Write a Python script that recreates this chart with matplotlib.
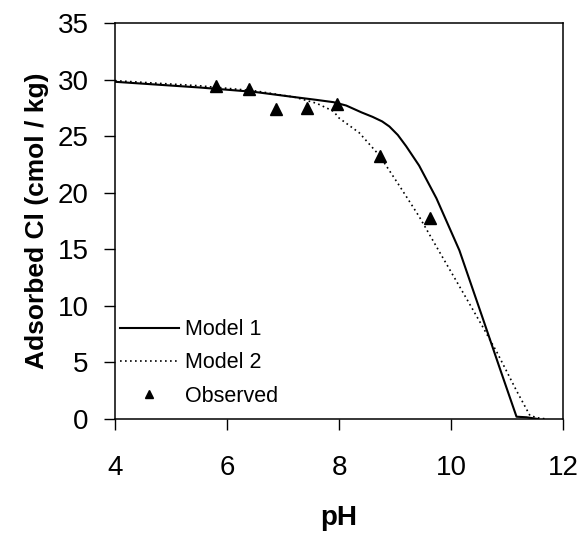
import numpy as np
import matplotlib
matplotlib.use('Agg')
import matplotlib.pyplot as plt

plt.rcParams['font.family'] = ['Liberation Sans', 'DejaVu Sans']

# model 1 (solid)
ph_model1 = [4.0, 5.5, 6.5, 7.2, 7.6, 7.9, 8.13, 8.4, 8.6, 8.77, 8.9, 9.05, 9.2, 9.43, 9.74,
             10.15, 10.56, 10.87, 11.17, 11.35, 11.55]
cl_model1 = [29.8, 29.3, 28.9, 28.45, 28.2, 28.0, 27.7, 27.1, 26.7, 26.3, 25.85, 25.1, 24.1, 22.4, 19.5,
             14.9, 9.0, 4.5, 0.2, 0.15, 0.0]

# model 2 (dotted)
ph_model2 = [4.0, 5.5, 6.5, 7.2, 7.6, 7.9, 8.0, 8.36, 8.72, 9.08, 9.43, 9.79, 10.2,
             10.56, 10.82, 11.17, 11.41, 11.55, 11.7]
cl_model2 = [29.9, 29.45, 29.0, 28.45, 27.9, 27.2, 26.6, 25.3, 23.3, 20.6, 17.9, 14.8, 11.3,
             8.2, 5.9, 2.5, 0.3, 0.1, 0.0]

# observed
ph_obs = [5.8, 6.4, 6.87, 7.43, 7.97, 8.74, 9.63]
cl_obs = [29.4, 29.2, 27.4, 27.5, 27.8, 23.2, 17.8]

fig = plt.figure(figsize=(5.81, 5.34), dpi=100)
ax = fig.add_axes([0.198, 0.2154, 0.771, 0.7416])

ax.plot(ph_model1, cl_model1, color='black', linewidth=1.5, label='Model 1')
ax.plot(ph_model2, cl_model2, color='black', linewidth=1.2, linestyle=(0, (1, 2)), label='Model 2')
ax.plot(ph_obs, cl_obs, linestyle='none', marker='^', color='black', markersize=8, label='Observed')

ax.set_xlim(4, 12)
ax.set_ylim(0, 35)
ax.set_xticks([4, 6, 8, 10, 12])
ax.set_yticks(np.arange(0, 36, 5))
ax.tick_params(direction='out', length=8, width=1, labelsize=20)
ax.tick_params(axis='x', pad=18)
ax.tick_params(axis='y', pad=11)
for s in ax.spines.values():
    s.set_linewidth(1.1)

ax.set_xlabel('pH', fontsize=20, fontweight='bold', labelpad=17)
ax.set_ylabel('Adsorbed Cl (cmol / kg)', fontsize=19, fontweight='bold', labelpad=6)

ax.legend(loc='upper left', bbox_to_anchor=(0.01, 0.252), frameon=False, fontsize=15.5,
          handlelength=2.75, handletextpad=0.3, labelspacing=0.57, borderpad=0,
          borderaxespad=0, markerscale=0.7)

fig.savefig('out.png', dpi=100)
